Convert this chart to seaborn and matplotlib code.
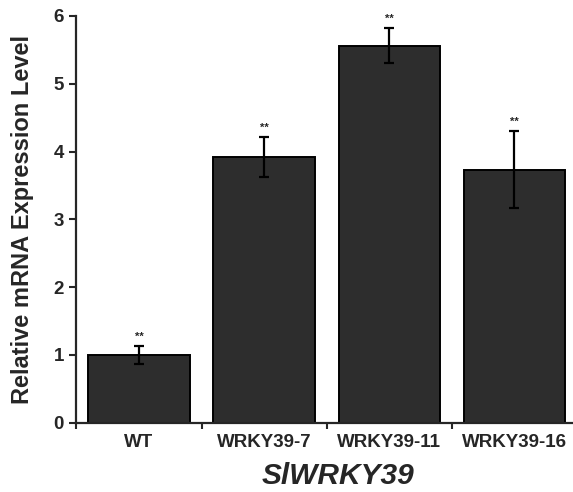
import matplotlib
matplotlib.use("Agg")
import matplotlib.pyplot as plt
import seaborn as sns
import pandas as pd

# values
lines = ["WT", "WRKY39-7", "WRKY39-11", "WRKY39-16"]
expression = [1.00, 3.92, 5.56, 3.73]
errors = [0.13, 0.30, 0.26, 0.57]
marks = ["**", "**", "**", "**"]
y_ticks = [0, 1, 2, 3, 4, 5, 6]

sns.set_style("ticks")
plt.rcParams["font.family"] = ["Liberation Sans", "DejaVu Sans"]
plt.rcParams["font.weight"] = "bold"

df = pd.DataFrame({"line": lines, "expr": expression, "err": errors})

fig = plt.figure(figsize=(5.73, 4.92), dpi=100)
ax = fig.add_axes([0.1335, 0.1409, 0.8665, 0.8266])

sns.barplot(data=df, x="line", y="expr", color="#2d2d2d", saturation=1,
            edgecolor="black", linewidth=1.4, width=0.81, errorbar=None, ax=ax)

ax.errorbar(range(len(lines)), df["expr"], yerr=df["err"], fmt="none",
            ecolor="black", elinewidth=1.6, capsize=3.6, capthick=1.6)

for i, (v, e, m) in enumerate(zip(expression, errors, marks)):
    ax.text(i, v + e + 0.06, m, ha="center", va="bottom",
            fontsize=8, fontweight="bold")

ax.set_xlim(-0.5, 3.47)
ax.set_ylim(0, 6)
ax.set_yticks(y_ticks)
ax.set_yticklabels([str(t) for t in y_ticks], fontsize=13.5, fontweight="bold")
ax.set_xticks(range(len(lines)))
ax.set_xticklabels(lines, fontsize=13.5, fontweight="bold")
ax.tick_params(axis="x", which="major", length=0, pad=8)
ax.set_xticks([-0.5, 0.5, 1.5, 2.5], minor=True)
ax.tick_params(axis="x", which="minor", length=4, width=1.5, direction="out")
ax.tick_params(axis="y", length=5, width=1.5, direction="out", pad=4)

sns.despine(ax=ax)
for side in ["left", "bottom"]:
    ax.spines[side].set_linewidth(1.6)

ax.set_ylabel("Relative mRNA Expression Level", fontsize=17, fontweight="bold",
              va="center")
ax.yaxis.set_label_coords(-0.108, 0.5)
ax.set_xlabel("SlWRKY39", fontsize=21.5, fontweight="bold", fontstyle="italic",
              va="center")
ax.xaxis.set_label_coords(0.527, -0.131)

fig.savefig("out.png", dpi=100)
